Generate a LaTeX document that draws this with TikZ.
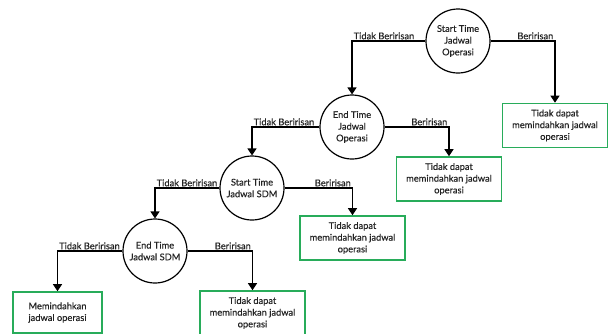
\documentclass[tikz,border=0pt]{standalone}
\usepackage{fontspec}
\setmainfont{Lato}[FakeBold=0.4]
\usetikzlibrary{arrows.meta}
\definecolor{boxgreen}{RGB}{40,172,90}
\definecolor{txt}{RGB}{35,35,35}
\begin{document}
\begin{tikzpicture}[x=1pt,y=-1pt,
  every node/.style={text=txt,font=\fontsize{9.3}{11.7}\selectfont},
  decision/.style={circle,draw=black,line width=1.2pt,minimum size=64pt,inner sep=0pt,align=center},
  result/.style={rectangle,draw=boxgreen,line width=1.6pt,minimum width=105pt,minimum height=44pt,inner sep=1pt,align=center},
  flow/.style={draw=black,line width=1.2pt,-{Triangle[width=9pt,length=7pt]}},
  lblL/.style={anchor=south west,inner sep=1.5pt},
  lblR/.style={anchor=south east,inner sep=1.5pt}]
\useasboundingbox (0,0) rectangle (609,333);
\node[decision] (c1) at (458,41) {Start Time\\Jadwal\\Operasi};
\node[decision] (c2) at (352,127) {End Time\\Jadwal\\Operasi};
\node[decision] (c3) at (252,188) {Start Time\\Jadwal SDM};
\node[decision] (c4) at (155,251) {End Time\\Jadwal SDM};
\node[result] (b1) at (555,125.5) {Tidak dapat\\memindahkan jadwal\\operasi};
\node[result] (b2) at (449,179) {Tidak dapat\\memindahkan jadwal\\operasi};
\node[result] (b3) at (352.5,238) {Tidak dapat\\memindahkan jadwal\\operasi};
\node[result,minimum width=89pt,minimum height=41pt] (b4) at (57.5,312.5) {Memindahkan\\jadwal operasi};
\node[result] (b5) at (252.5,313) {Tidak dapat\\memindahkan jadwal\\operasi};
\draw[flow] (c1.west) -| coordinate[pos=0.5] (k1) (c2.north);
\draw[flow] (c1.east) -| coordinate[pos=0.5] (k2) (b1.north);
\draw[flow] (c2.west) -| coordinate[pos=0.5] (k3) (c3.north);
\draw[flow] (c2.east) -| coordinate[pos=0.5] (k4) (b2.north);
\draw[flow] (c3.west) -| coordinate[pos=0.5] (k5) (c4.north);
\draw[flow] (c3.east) -| coordinate[pos=0.5] (k6) (b3.north);
\draw[flow] (c4.west) -| coordinate[pos=0.5] (k7) (b4.north);
\draw[flow] (c4.east) -| coordinate[pos=0.5] (k8) (b5.north);
\node[lblL] (l1) at (k1) {Tidak Beririsan};
\node[lblR] (l2) at (k2) {Beririsan};
\node[lblL] (l3) at (k3) {Tidak Beririsan};
\node[lblR] (l4) at (k4) {Beririsan};
\node[lblL] (l5) at (k5) {Tidak Beririsan};
\node[lblR] (l6) at (k6) {Beririsan};
\node[lblL] (l7) at (k7) {Tidak Beririsan};
\node[lblR] (l8) at (k8) {Beririsan};
\end{tikzpicture}
\end{document}
